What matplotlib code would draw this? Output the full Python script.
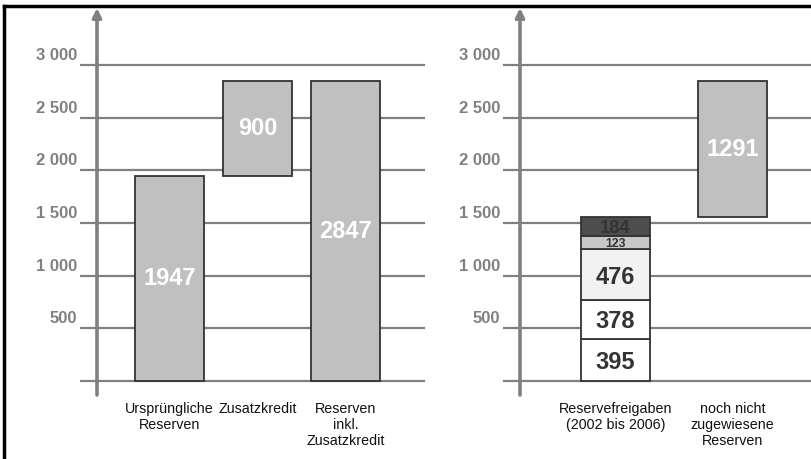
import matplotlib
matplotlib.use("Agg")
import matplotlib.pyplot as plt
from matplotlib import transforms
from matplotlib.lines import Line2D

plt.rcParams["font.family"] = ["Liberation Sans", "DejaVu Sans"]

# --- data -------------------------------------------------------------
left_categories = ["Ursprüngliche\nReserven", "Zusatzkredit",
                   "Reserven\ninkl.\nZusatzkredit"]
original_reserves = 1947
additional_credit = 900
reserves_total = 2847

right_categories = ["Reservefreigaben\n(2002 bis 2006)",
                    "noch nicht\nzugewiesene\nReserven"]
releases = [395, 378, 476, 123, 184]
release_colors = ["#ffffff", "#ffffff", "#f2f2f2", "#c8c8c8", "#4d4d4d"]
unallocated = 1291

y_ticks = [0, 500, 1000, 1500, 2000, 2500, 3000]
y_tick_labels = ["", "500", "1 000", "1 500", "2 000", "2 500", "3 000"]

# --- layout -----------------------------------------------------------
W, H, DPI = 811, 459, 100
fig = plt.figure(figsize=(W / DPI, H / DPI), dpi=DPI)

PX_PER_UNIT = 0.10533       # pixels per value unit
BASE_PX = 381               # baseline row
TOP_PX, BOT_PX = 8, 395
ymin = -(BOT_PX - BASE_PX) / PX_PER_UNIT
ymax = (BASE_PX - TOP_PX) / PX_PER_UNIT

GRID = "#808080"
EDGE = "#333333"
BAR = "#c0c0c0"
VALUE_FS = 17


def make_axes(x0, x1, centre0, step):
    ax = fig.add_axes([x0 / W, (H - BOT_PX) / H, (x1 - x0) / W,
                       (BOT_PX - TOP_PX) / H])
    ax.set_xlim((x0 - centre0) / step, (x1 - centre0) / step)
    ax.set_ylim(ymin, ymax)
    for s in ax.spines.values():
        s.set_visible(False)
    ax.set_yticks(y_ticks)
    ax.set_yticklabels([])
    ax.tick_params(axis="y", length=0)
    ax.grid(axis="y", color=GRID, linewidth=1.6)
    ax.set_axisbelow(True)
    # tick values sit just above their grid line, left of the line start
    tr = transforms.blended_transform_factory(ax.transAxes, ax.transData) + \
        transforms.ScaledTranslation(-3 / DPI, 2 / DPI, fig.dpi_scale_trans)
    for v, lab in zip(y_ticks, y_tick_labels):
        ax.text(0, v, lab, transform=tr, ha="right", va="bottom",
                fontsize=12, fontweight="bold", color=GRID)
    return ax


def axis_arrow(ax, xpos):
    ax.annotate("", xy=(xpos, ymax), xytext=(xpos, ymin),
                arrowprops=dict(arrowstyle="-|>", color=GRID, lw=2.6,
                                mutation_scale=13, shrinkA=0, shrinkB=0),
                annotation_clip=False, zorder=4)


def category_labels(ax, positions, labels):
    ax.set_xticks(positions)
    ax.set_xticklabels(labels, fontsize=10.3, color="#111111",
                       linespacing=1.2)
    ax.tick_params(axis="x", length=0, pad=5)


# --- left panel -------------------------------------------------------
step_l = 88
axl = make_axes(80, 425, 169.5, step_l)
wl = 69 / step_l
xl = [0, 1, 2]
heights = [original_reserves, additional_credit, reserves_total]
bottoms = [0, original_reserves, 0]
axl.bar(xl, heights, bottom=bottoms, width=wl, color=BAR,
        edgecolor=EDGE, linewidth=1.3, zorder=3)
for x, h, b in zip(xl, heights, bottoms):
    axl.text(x, b + h / 2, f"{h}", ha="center", va="center",
             fontsize=VALUE_FS, fontweight="bold", color="white", zorder=5)
axis_arrow(axl, (97 - 169.5) / step_l)
category_labels(axl, xl, left_categories)

# --- right panel ------------------------------------------------------
step_r = 117
axr = make_axes(503, 811, 615.5, step_r)
wr = 69 / step_r
bottom = 0
for v, c in zip(releases, release_colors):
    axr.bar(0, v, bottom=bottom, width=wr, color=c, edgecolor=EDGE,
            linewidth=1.3, zorder=3)
    # shrink the label when the segment is too short for the full size
    fs = min(VALUE_FS, v * PX_PER_UNIT * 0.68)
    axr.text(0, bottom + v / 2, f"{v}", ha="center", va="center_baseline",
             fontsize=fs, fontweight="bold", color="#333333", zorder=5)
    bottom += v
axr.bar(1, unallocated, bottom=bottom, width=wr, color=BAR,
        edgecolor=EDGE, linewidth=1.3, zorder=3)
axr.text(1, bottom + unallocated / 2, f"{unallocated}", ha="center",
         va="center", fontsize=VALUE_FS, fontweight="bold", color="white",
         zorder=5)
axis_arrow(axr, (520 - 615.5) / step_r)
category_labels(axr, [0, 1], right_categories)

# --- frame (top and left edges) ---------------------------------------
fig.add_artist(Line2D([4 / W, 4 / W], [0, 1 - 6 / H], color="black",
                      lw=2.5, transform=fig.transFigure))
fig.add_artist(Line2D([4 / W, 1], [1 - 6 / H, 1 - 6 / H], color="black",
                      lw=2.5, transform=fig.transFigure))

fig.savefig("out.png", dpi=DPI, facecolor="white")
